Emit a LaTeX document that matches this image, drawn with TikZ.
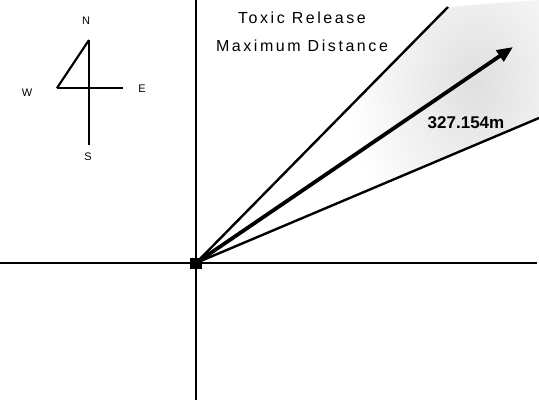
\documentclass[tikz,border=0pt]{standalone}
\usepackage{fontspec}
\setmainfont{Liberation Sans}
\newfontfamily\spaced[LetterSpace=16]{Liberation Sans}
\usetikzlibrary{arrows.meta}
\begin{document}
\begin{tikzpicture}[x=1pt,y=-1pt,
  axis/.style={line width=1.4pt},
  ray/.style={line width=2.4pt},
  mainray/.style={line width=3.8pt,-{Triangle[length=16pt,width=13pt]}},
  comp/.style={line width=2.2pt},
  lbl/.style={font=\fontsize{11}{12}\selectfont, inner sep=0pt},
  title/.style={font=\fontsize{16}{18}\selectfont\spaced, inner sep=0pt}]
\useasboundingbox (0,0) rectangle (539,405);
% coordinates
\coordinate (O) at (196,263);
\coordinate (up) at (448,7);
\coordinate (tip) at (513,47);
\coordinate (lo) at (539,118);
\coordinate (ytop) at (196,0);
\coordinate (ybot) at (196,400);
\coordinate (xl) at (0,263);
\coordinate (xr) at (537,263);
% shaded plume
\begin{scope}
  \clip (O) -- (up) -- (539,0) -- (lo) -- cycle;
  \shade[inner color=gray!25, outer color=white] (476,84) ellipse [x radius=130pt, y radius=170pt];
\end{scope}
% axes
\draw[axis] (ytop) -- (ybot);
\draw[axis] (xl) -- (xr);
% rays
\draw[ray] (O) -- (up);
\draw[ray] (O) -- (lo);
\draw[mainray] (O) -- (tip);
% origin blob
\node[fill=black, minimum width=12pt, minimum height=11pt, inner sep=0pt] (src) at (O) {};
% labels
\node[title] (t1) at (302,18) {Toxic Release};
\node[title] (t2) at (302,46) {Maximum Distance};
\node[font=\fontsize{17}{18}\selectfont\bfseries, inner sep=0pt] (dist) at (466,123) {327.154m};
% compass
\coordinate (cN) at (89,40);
\coordinate (cS) at (89,145);
\coordinate (cW) at (57,88);
\coordinate (cE) at (123,88);
\draw[comp] (cN) -- (cS);
\draw[comp] (cW) -- (cE);
\draw[comp] (cW) -- (cN);
\node[lbl] (N) at (86,21) {N};
\node[lbl] (S) at (88,157) {S};
\node[lbl] (W) at (27,93) {W};
\node[lbl] (E) at (142,89) {E};
\end{tikzpicture}
\end{document}
